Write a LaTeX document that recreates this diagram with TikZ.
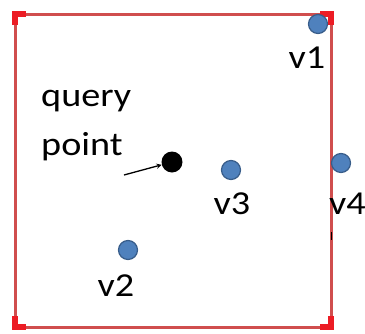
\documentclass[tikz,border=0pt]{standalone}
\usepackage{fontspec}
\setmainfont{Carlito}
\definecolor{boxred}{RGB}{208,78,78}
\definecolor{cornerred}{RGB}{236,28,36}
\definecolor{vfill}{RGB}{79,129,189}
\definecolor{vedge}{RGB}{56,93,138}
\newcommand{\widetext}[1]{\scalebox{1.14}[1]{#1}}
\begin{document}
\begin{tikzpicture}[x=1pt,y=-1pt,
  vertex/.style={circle,fill=vfill,draw=vedge,line width=1.2pt,minimum size=19pt,inner sep=0pt},
  qpt/.style={circle,fill=black,minimum size=21pt,inner sep=0pt},
  lbl/.style={font=\fontsize{33.5}{36}\selectfont,inner sep=0pt,anchor=center},
  corner/.style={cornerred,line width=5.5pt}]
\useasboundingbox (0,0) rectangle (365,333);
% search region
\draw[boxred,line width=3pt] (15,14) rectangle (331,327);
\draw[corner] (15,25) -- (15,14) -- (26,14);
\draw[corner] (320,14) -- (331,14) -- (331,25);
\draw[corner] (15,316) -- (15,327) -- (26,327);
\draw[corner] (320,327) -- (331,327) -- (331,316);
\draw[black,line width=1pt] (331,232) -- (331,240);
% points
\node[vertex] (v1) at (318,24) {};
\node[vertex] (v2) at (128,250) {};
\node[vertex] (v3) at (231,170) {};
\node[vertex] (v4) at (341,163) {};
\node[qpt] (q) at (172,162) {};
% labels
\node[lbl] (l1) at (307,58) {\widetext{v1}};
\node[lbl] (l2) at (116,286) {\widetext{v2}};
\node[lbl] (l3) at (232,204) {\widetext{v3}};
\node[lbl] (l4) at (347.5,204) {\widetext{v4}};
\node[lbl,anchor=west] (lq1) at (41,101) {\widetext{query}};
\node[lbl,anchor=west] (lq2) at (41,147) {\widetext{point}};
\coordinate (tail) at (124,175);
\draw[-stealth,line width=1.3pt] (tail) -- (q);
\end{tikzpicture}
\end{document}
